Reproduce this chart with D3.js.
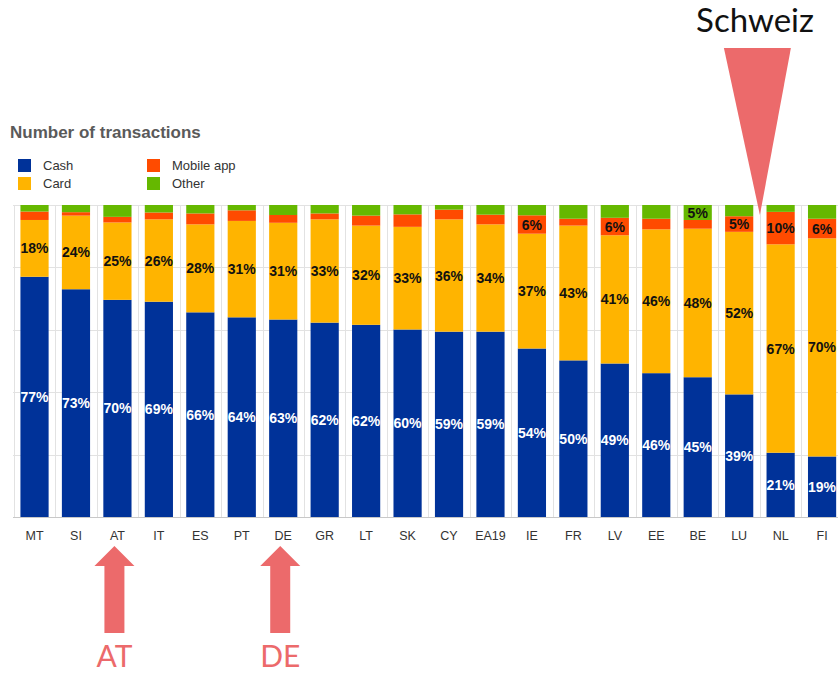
<!DOCTYPE html>
<html>
<head>
<meta charset="utf-8">
<script src="https://cdn.jsdelivr.net/npm/d3@7"></script>
<style>
  body { margin: 0; background: #fff; }
  svg { display: block; }
</style>
</head>
<body>
<div id="chart"></div>
<script>
// Countries, in the order shown
var countries = ["MT", "SI", "AT", "IT", "ES", "PT", "DE", "GR", "LT", "SK", "CY", "EA19", "IE", "FR", "LV", "EE", "BE", "LU", "NL", "FI"];

// Share of transactions (%) per payment instrument
var cash   = [77, 73, 69.6, 69, 65.6, 64, 63.3, 62.3, 61.6, 60.1, 59.4, 59.4, 54, 50.2, 49.2, 46.1, 44.8, 39.3, 20.6, 19.4];
var card   = [18.2, 23.6, 24.8, 26.4, 28.2, 30.9, 31, 33.1, 31.8, 32.9, 36, 34.4, 36.8, 43.2, 41.1, 46.1, 47.6, 52.1, 66.8, 69.9];
var mobile = [2.7, 1.1, 1.8, 2.2, 3.5, 3.4, 2.5, 1.9, 3.2, 4, 3.1, 3.1, 5.9, 2.2, 5.6, 3.4, 2.8, 5, 10.4, 6.3];
var other  = [2.1, 2.3, 3.8, 2.4, 2.7, 1.7, 3.2, 2.7, 3.4, 3, 1.5, 3.1, 3.3, 4.4, 4.1, 4.4, 4.8, 3.6, 2.2, 4.4];

var seriesNames = ["Cash", "Card", "Mobile app", "Other"];
var yTicks = [0, 20, 40, 60, 80, 100];

function init() {
    var w = 838;
    var h = 675;

    var colors = { "Cash": "#003299", "Card": "#FFB400", "Mobile app": "#FF4B00", "Other": "#65B800" };
    var labelColors = { "Cash": "#ffffff", "Card": "#111", "Mobile app": "#111", "Other": "#111" };
    var keys = { "Cash": cash, "Card": card, "Mobile app": mobile, "Other": other };

    // table for the stack layout
    var rows = countries.map(function (c, i) {
        var r = { country: c };
        seriesNames.forEach(function (s) { r[s] = keys[s][i]; });
        return r;
    });

    var stacked = d3.stack().keys(seriesNames)(rows);

    var x = d3.scaleBand()
        .domain(countries)
        .range([13.8, 13.8 + 20 * 41.45])
        .paddingInner(0.32)
        .paddingOuter(0.16);

    var y = d3.scaleLinear()
        .domain([0, 100])
        .range([517, 205]);

    var svg = d3.select("#chart")
        .append("svg")
        .attr("width", w)
        .attr("height", h)
        .style("font-family", "Arial, 'Liberation Sans', sans-serif");

    // grid
    var grid = svg.append("g");
    grid.selectAll("line.h")
        .data(yTicks)
        .enter()
        .append("line")
        .attr("x1", 13)
        .attr("x2", w)
        .attr("y1", function (d) { return Math.round(y(d)) + 0.5; })
        .attr("y2", function (d) { return Math.round(y(d)) + 0.5; })
        .attr("stroke", function (d) { return d === 0 ? "#c8c8c8" : "#e2e2e2"; });

    grid.selectAll("line.v")
        .data(countries)
        .enter()
        .append("line")
        .attr("x1", function (d) { return Math.round(x(d) - x.step() * x.paddingInner() / 2) + 0.5; })
        .attr("x2", function (d) { return Math.round(x(d) - x.step() * x.paddingInner() / 2) + 0.5; })
        .attr("y1", y(100))
        .attr("y2", y(0))
        .attr("stroke", "#e2e2e2");

    // bars
    var layers = svg.selectAll("g.layer")
        .data(stacked)
        .enter()
        .append("g")
        .attr("fill", function (d) { return colors[d.key]; });

    layers.selectAll("rect")
        .data(function (d) { return d; })
        .enter()
        .append("rect")
        .attr("x", function (d) { return x(d.data.country); })
        .attr("y", function (d) { return y(d[1]); })
        .attr("width", x.bandwidth())
        .attr("height", function (d) { return y(d[0]) - y(d[1]); });

    // value labels (only segments of 5% or more)
    stacked.forEach(function (layer) {
        svg.append("g")
            .selectAll("text")
            .data(layer.filter(function (d) { return Math.round(d[1] - d[0]) >= 5; }))
            .enter()
            .append("text")
            .attr("x", function (d) { return x(d.data.country) + x.bandwidth() / 2; })
            .attr("y", function (d) { return (y(d[0]) + y(d[1])) / 2; })
            .attr("dy", "0.36em")
            .attr("text-anchor", "middle")
            .style("font-size", "14px")
            .style("font-weight", "bold")
            .style("fill", labelColors[layer.key])
            .text(function (d) { return Math.round(d[1] - d[0]) + "%"; });
    });

    // x axis labels
    svg.append("g")
        .selectAll("text")
        .data(countries)
        .enter()
        .append("text")
        .attr("x", function (d) { return x(d) + x.bandwidth() / 2; })
        .attr("y", 540)
        .attr("text-anchor", "middle")
        .style("font-size", "12.5px")
        .style("fill", "#333")
        .text(function (d) { return d; });

    // title
    svg.append("text")
        .attr("x", 10)
        .attr("y", 138)
        .style("font-size", "17px")
        .style("font-weight", "bold")
        .style("fill", "#5a5a5a")
        .text("Number of transactions");

    // legend
    var legendPos = [[18, 159], [18, 177], [147, 159], [147, 177]];
    var legend = svg.append("g")
        .selectAll("g")
        .data(seriesNames)
        .enter()
        .append("g")
        .attr("transform", function (d, i) { return "translate(" + legendPos[i][0] + "," + legendPos[i][1] + ")"; });

    legend.append("rect")
        .attr("width", 13)
        .attr("height", 13)
        .attr("fill", function (d) { return colors[d]; });

    legend.append("text")
        .attr("x", 25)
        .attr("y", 11)
        .style("font-size", "13px")
        .style("fill", "#333")
        .text(function (d) { return d; });

    // annotations
    var red = "#EC6A6B";
    var annoFont = "Lato, 'Open Sans', sans-serif";

    svg.append("text")
        .attr("x", 755)
        .attr("y", 32)
        .attr("text-anchor", "middle")
        .style("font-family", annoFont)
        .style("font-size", "33px")
        .style("fill", "#111")
        .text("Schweiz");

    var tipX = x("NL") - x.step() * x.paddingInner() / 2;
    svg.append("path")
        .attr("d", "M" + (tipX - 36) + ",48L" + (tipX + 31) + ",48L" + tipX + ",215Z")
        .attr("fill", red);

    ["AT", "DE"].forEach(function (c) {
        var cx = x(c) + x.bandwidth() / 2 - 3;
        svg.append("path")
            .attr("d", "M" + cx + ",546L" + (cx + 20) + ",566L" + (cx + 10) + ",566L" + (cx + 10) + ",633L" +
                (cx - 10) + ",633L" + (cx - 10) + ",566L" + (cx - 20) + ",566Z")
            .attr("fill", red);
        svg.append("text")
            .attr("x", cx)
            .attr("y", 667)
            .attr("text-anchor", "middle")
            .style("font-family", annoFont)
            .style("font-size", "30px")
            .style("fill", red)
            .text(c);
    });
}

window.onload = init;
</script>
</body>
</html>
